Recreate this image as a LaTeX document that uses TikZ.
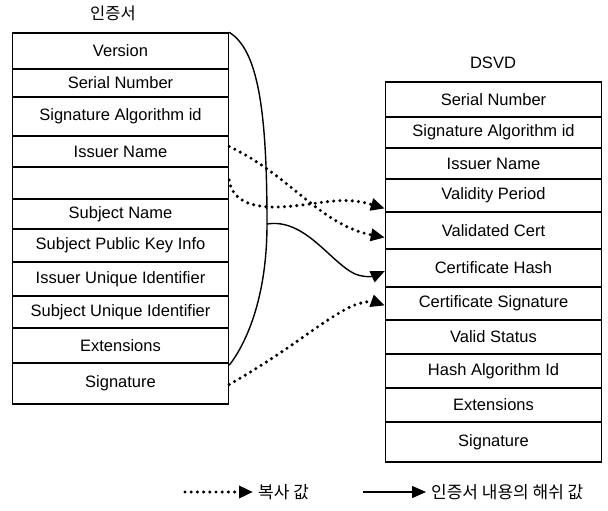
\documentclass[tikz,border=0pt]{standalone}
\usepackage{fontspec}
\setmainfont{Liberation Sans}
\newfontfamily\kr{Noto Sans CJK KR}
\usetikzlibrary{arrows.meta,calc}
\begin{document}
\begin{tikzpicture}[x=1pt,y=-1pt,
  cell/.style={draw,line width=1.4pt,inner sep=0pt,minimum width=216pt,
    font=\fontsize{16.5}{19}\selectfont},
  tip/.style={-{Triangle[length=14pt,width=12pt]}},
  copyline/.style={tip,line width=3.4pt,line cap=round,dash pattern=on 0pt off 6.2pt},
  hashline/.style={tip,line width=1.4pt},
  title/.style={inner sep=0pt,font=\fontsize{16.5}{19}\selectfont},
  legend/.style={inner sep=0pt,anchor=west,font=\kr\fontsize{17}{19}\selectfont}]
\useasboundingbox (0,0) rectangle (608,511);

% certificate fields
\node[title,font=\kr\fontsize{16.5}{19}\selectfont] (ctitle) at (113,13) {인증서};
\foreach \t/\b/\n/\s in {33/69/L1/Version, 69/97/L2/Serial Number,
    97/136/L3/Signature Algorithm id, 136/167/L4/Issuer Name, 167/199/L5/{},
    199/229/L6/Subject Name, 229/262/L7/Subject Public Key Info,
    262/296/L8/Issuer Unique Identifier, 296/328/L9/Subject Unique Identifier,
    328/363/L10/Extensions, 363/404/L11/Signature}{
  \node[cell,minimum height={(\b-\t)*1pt}] (\n) at (120.5,{(\t+\b)/2}) {\s};
}

% DSVD fields
\node[title] (dtitle) at (493,63) {DSVD};
\foreach \t/\b/\n/\s in {82/117/R1/Serial Number, 117/148/R2/Signature Algorithm id,
    148/179/R3/Issuer Name, 179/212/R4/Validity Period, 212/249/R5/Validated Cert,
    249/287/R6/Certificate Hash, 287/320/R7/Certificate Signature,
    320/354/R8/Valid Status, 354/388/R9/Hash Algorithm Id,
    388/422/R10/Extensions, 422/462/R11/Signature}{
  \node[cell,minimum height={(\b-\t)*1pt}] (\n) at (493.5,{(\t+\b)/2}) {\s};
}

% bracket over the hashed certificate content
\coordinate (bz) at (267,224);
\draw[line width=1.4pt] (L1.north east) .. controls (258,50) and (267,110) .. (bz)
  .. controls (267,300) and (245,345) .. ($(L11.north east)+(0,3)$);
\draw[hashline] (bz) .. controls (305,218) and (330,262) .. (355,274)
  .. controls (368,279) and (376,275) .. ($(R6.west)+(0,3)$);

% copied values
\draw[copyline] ($(L4.east)+(0,-5)$) .. controls (290,175) and (320,225) .. ($(R5.west)+(0,7)$);
\draw[copyline] ($(L5.east)+(0,-3)$) .. controls (232,200) and (250,208) .. (280,207)
  .. controls (320,205) and (340,195) .. ($(R4.west)+(0,13)$);
\draw[copyline] ($(L11.east)+(0,1)$) .. controls (290,350) and (320,322) .. (350,307)
  .. controls (365,300) and (375,302) .. ($(R7.west)+(0,2)$);

% legend
\coordinate (k1) at (185,492);
\node[legend] (k1t) at (258,492) {복사 값};
\draw[copyline] (k1) -- ($(k1t.west)+(-5,0)$);
\coordinate (k2) at (363,492);
\node[legend] (k2t) at (431,492) {인증서 내용의 해쉬 값};
\draw[hashline] (k2) -- ($(k2t.west)+(-5,0)$);
\end{tikzpicture}
\end{document}
